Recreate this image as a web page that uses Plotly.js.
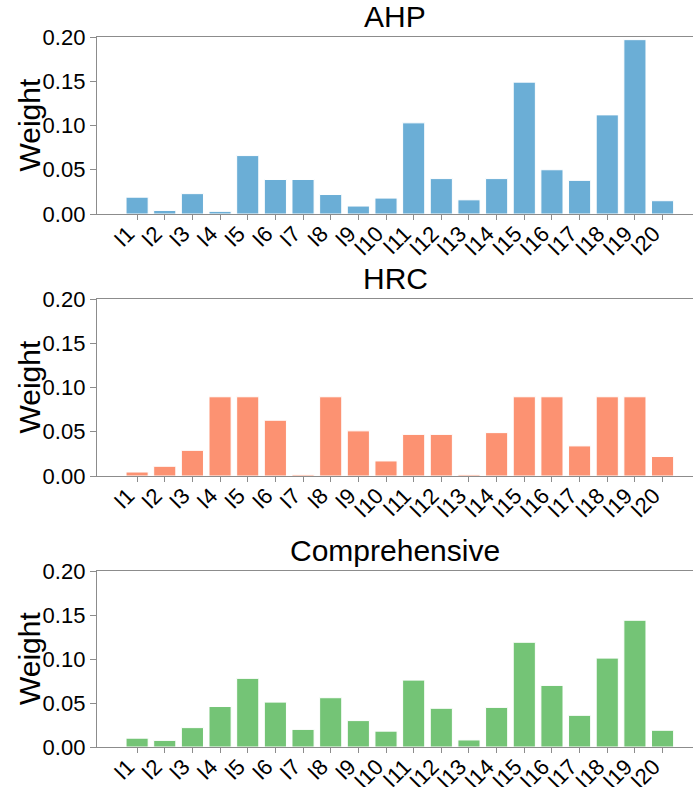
<!DOCTYPE html>
<html>
<head>
<meta charset="utf-8">
<script src="https://cdn.plot.ly/plotly-3.0.1.min.js"></script>
<style>html,body{margin:0;padding:0;background:#fff;}#chart{width:693px;height:787px;}</style>
</head>
<body>
<div id="chart"></div>
<script>
const categories = ["I1","I2","I3","I4","I5","I6","I7","I8","I9","I10","I11","I12","I13","I14","I15","I16","I17","I18","I19","I20"];
const ahpWeights = [0.019,0.004,0.023,0.003,0.066,0.039,0.039,0.022,0.009,0.018,0.103,0.040,0.016,0.040,0.149,0.050,0.038,0.112,0.197,0.015];
const hrcWeights = [0.0045,0.011,0.029,0.0895,0.0895,0.063,0.0015,0.0895,0.051,0.017,0.047,0.047,0.0015,0.049,0.0895,0.0895,0.034,0.0895,0.0895,0.022];
const compWeights = [0.010,0.0075,0.022,0.046,0.078,0.051,0.020,0.056,0.030,0.018,0.076,0.044,0.008,0.045,0.119,0.070,0.036,0.101,0.144,0.019];
const panelTitles = ["AHP","HRC","Comprehensive"];
const yTitle = "Weight";
const yTicks = [0,0.05,0.10,0.15,0.20];

const colors = ["#6baed6","#fc9272","#74c476"];
const series = [ahpWeights, hrcWeights, compWeights];
const H = 787;
const panels = [[37,214],[299,476],[571,747]];
const font = "Liberation Sans, Arial, sans-serif";

const data = series.map((vals,i)=>({
  type:'bar', x:categories, y:vals,
  xaxis: i===0?'x':'x'+(i+1), yaxis: i===0?'y':'y'+(i+1),
  marker:{color:colors[i], line:{color:'#ffffff', width:1}},
  hoverinfo:'x+y'
}));

const layout = {
  width:693, height:787,
  margin:{l:97, r:0, t:0, b:0},
  paper_bgcolor:'#fff', plot_bgcolor:'#fff',
  showlegend:false, bargap:0.2,
  font:{family:font, color:'#000'},
  annotations:[]
};

panels.forEach((p,i)=>{
  const sx = i===0?'':String(i+1);
  layout['xaxis'+sx] = {
    type:'category', anchor:'y'+sx, domain:[0,1],
    range:[-1.45,20.1],
    showline:true, linecolor:'#8c8c8c', linewidth:1.2, mirror:true,
    ticks:'outside', ticklen:5, tickcolor:'#8c8c8c', tickwidth:1,
    tickangle:-45, tickfont:{size:22, family:font, color:'#000'},
    ticklabelstandoff:-8, ticklabelshift:-9,
    showgrid:false, zeroline:false, fixedrange:true
  };
  layout['yaxis'+sx] = {
    anchor:'x'+sx, domain:[1-p[1]/H, 1-p[0]/H],
    range:[0,0.2], tickvals:yTicks, tickformat:'.2f',
    showline:true, linecolor:'#8c8c8c', linewidth:1.2, mirror:false,
    ticks:'outside', ticklen:6, tickcolor:'#8c8c8c', tickwidth:1,
    tickfont:{size:22, family:font, color:'#000'},
    showgrid:false, zeroline:false, fixedrange:true
  };
  layout.annotations.push({
    text:panelTitles[i], xref:'paper', yref:'paper',
    x:0.5, y:1-(p[0]-2)/H, xanchor:'center', yanchor:'bottom',
    showarrow:false, font:{size:30, family:font, color:'#000'}
  });
  layout.annotations.push({
    text:yTitle, xref:'paper', yref:'paper',
    x:(29-97)/596, y:1-((p[0]+p[1])/2)/H, xanchor:'center', yanchor:'middle',
    textangle:-90, showarrow:false, font:{size:30, family:font, color:'#000'}
  });
});

Plotly.newPlot('chart', data, layout, {staticPlot:true, displayModeBar:false});
</script>
</body>
</html>
